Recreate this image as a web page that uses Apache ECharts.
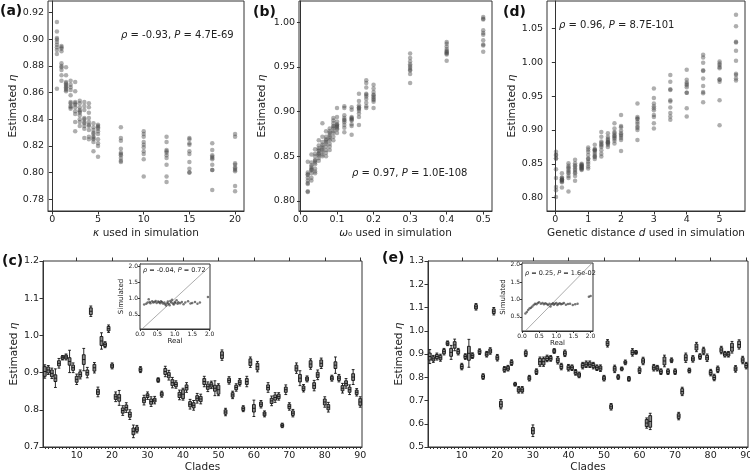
<!DOCTYPE html>
<html><head><meta charset="utf-8">
<script src="https://cdn.jsdelivr.net/npm/echarts@6/dist/echarts.min.js"></script>
<style>html,body{margin:0;padding:0;background:#fff}#c{width:750px;height:470px}</style>
</head><body><div id="c"></div>
<script>
// ---------- Panel (a): kappa ----------
const kappaVals = [0.5,1,1.5,2,2.5,3,3.5,4,4.5,5,7.5,10,12.5,15,17.5,20];
const etaA = [
 [0.913,0.906,0.901,0.900,0.898,0.896,0.894,0.892,0.889,0.863],
 [0.895,0.894,0.893,0.891,0.882,0.880,0.877,0.873,0.869,0.879],
 [0.879,0.873,0.868,0.866,0.864,0.863,0.862,0.861,0.865,0.867],
 [0.869,0.866,0.864,0.862,0.853,0.852,0.850,0.849,0.848,0.858],
 [0.868,0.861,0.853,0.851,0.849,0.846,0.844,0.838,0.831,0.852],
 [0.854,0.852,0.849,0.847,0.845,0.843,0.840,0.838,0.835,0.846],
 [0.853,0.850,0.847,0.841,0.840,0.837,0.835,0.833,0.826,0.838],
 [0.852,0.849,0.845,0.841,0.838,0.835,0.832,0.827,0.825,0.836],
 [0.837,0.834,0.832,0.830,0.829,0.827,0.825,0.823,0.816,0.826],
 [0.836,0.835,0.833,0.831,0.829,0.825,0.822,0.820,0.812,0.834],
 [0.834,0.826,0.824,0.818,0.815,0.814,0.813,0.811,0.809,0.808],
 [0.831,0.829,0.827,0.823,0.821,0.819,0.816,0.814,0.810,0.797],
 [0.827,0.823,0.816,0.815,0.813,0.811,0.806,0.797,0.793,0.817],
 [0.826,0.825,0.822,0.821,0.816,0.814,0.808,0.803,0.800,0.800],
 [0.822,0.817,0.813,0.812,0.811,0.806,0.802,0.802,0.787,0.810],
 [0.829,0.827,0.807,0.806,0.803,0.802,0.801,0.790,0.786,0.804]
];
const ticksAx = [0,5,10,15,20];
const ticksAy = [0.78,0.80,0.82,0.84,0.86,0.88,0.90,0.92];

// ---------- Panel (b): omega0 ----------
const omegaVals = [0.02,0.03,0.04,0.05,0.06,0.07,0.08,0.09,0.1,0.12,0.14,0.16,0.18,0.2,0.3,0.4,0.5];
const etaB = [
 [0.844,0.832,0.830,0.829,0.826,0.823,0.820,0.819,0.811,0.810],
 [0.852,0.843,0.840,0.838,0.836,0.834,0.831,0.826,0.823,0.835],
 [0.858,0.853,0.850,0.846,0.843,0.841,0.836,0.833,0.831,0.845],
 [0.868,0.862,0.859,0.856,0.853,0.851,0.848,0.845,0.853,0.857],
 [0.887,0.872,0.866,0.863,0.859,0.857,0.855,0.852,0.850,0.861],
 [0.878,0.872,0.868,0.864,0.861,0.857,0.854,0.850,0.866,0.869],
 [0.881,0.878,0.876,0.872,0.868,0.864,0.861,0.857,0.870,0.874],
 [0.893,0.890,0.887,0.884,0.881,0.878,0.872,0.868,0.883,0.876],
 [0.904,0.894,0.889,0.886,0.884,0.881,0.880,0.876,0.885,0.883],
 [0.906,0.904,0.896,0.893,0.891,0.888,0.885,0.882,0.877,0.890],
 [0.905,0.902,0.894,0.892,0.890,0.886,0.884,0.874,0.893,0.891],
 [0.920,0.912,0.907,0.905,0.903,0.898,0.894,0.885,0.901,0.904],
 [0.935,0.932,0.927,0.920,0.917,0.914,0.910,0.906,0.904,0.919],
 [0.930,0.926,0.922,0.919,0.916,0.914,0.911,0.904,0.918,0.913],
 [0.965,0.960,0.956,0.953,0.951,0.949,0.946,0.942,0.932,0.947],
 [0.978,0.976,0.973,0.970,0.967,0.965,0.966,0.964,0.957,0.968],
 [1.006,1.004,1.003,0.991,0.988,0.986,0.980,0.975,0.967,0.974]
];
const ticksBx = [0,0.1,0.2,0.3,0.4,0.5];
const ticksBy = [0.80,0.85,0.90,0.95,1.00];

// ---------- Panel (d): genetic distance ----------
const distVals = [0.02,0.2,0.4,0.6,0.8,1.0,1.2,1.4,1.6,1.8,2.0,2.5,3,3.5,4,4.5,5,5.5];
const etaD = [
 [0.868,0.863,0.858,0.842,0.829,0.816,0.811,0.801,0.858,0.863],
 [0.836,0.830,0.827,0.825,0.823,0.815,0.827,0.829,0.826,0.824],
 [0.851,0.847,0.843,0.840,0.836,0.832,0.829,0.809,0.838,0.845],
 [0.856,0.851,0.846,0.841,0.836,0.832,0.825,0.838,0.843,0.848],
 [0.850,0.848,0.846,0.843,0.841,0.849,0.847,0.845,0.844,0.842],
 [0.874,0.871,0.863,0.858,0.853,0.850,0.846,0.843,0.857,0.868],
 [0.878,0.871,0.869,0.863,0.861,0.857,0.870,0.860,0.872,0.866],
 [0.897,0.890,0.883,0.879,0.875,0.870,0.865,0.861,0.881,0.877],
 [0.895,0.890,0.885,0.883,0.880,0.875,0.882,0.878,0.887,0.881],
 [0.910,0.902,0.897,0.892,0.887,0.884,0.880,0.891,0.889,0.895],
 [0.922,0.906,0.899,0.895,0.891,0.888,0.885,0.869,0.893,0.904],
 [0.939,0.919,0.916,0.912,0.909,0.905,0.900,0.885,0.917,0.903],
 [0.961,0.947,0.939,0.935,0.932,0.922,0.919,0.910,0.902,0.929],
 [0.981,0.971,0.960,0.944,0.933,0.925,0.915,0.959,0.942,0.920],
 [0.989,0.974,0.970,0.966,0.955,0.932,0.920,0.968,0.955,0.963],
 [1.011,1.007,0.999,0.988,0.976,0.965,0.956,0.954,0.941,0.987],
 [1.001,0.996,0.991,0.974,0.971,0.944,0.907,0.975,0.998,0.993],
 [1.070,1.053,1.030,1.017,1.002,0.981,0.976,0.973,0.983,1.029]
];
const ticksDx = [0,1,2,3,4,5];
const ticksDy = [0.80,0.85,0.90,0.95,1.00,1.05];

// ---------- Panel (c): clades, medians and half box / whisker (x0.001) ----------
const clades = Array.from({length:90},(_,i)=>String(i+1));
const cMed = [
 0.903,0.907,0.898,0.885,0.925,0.940,0.942,0.930,0.913,0.882,
 0.895,0.935,0.900,1.065,0.913,0.848,0.985,0.975,1.018,0.918,
 0.835,0.832,0.798,0.806,0.787,0.742,0.748,0.908,0.826,0.838,
 0.822,0.826,0.880,0.842,0.903,0.893,0.873,0.868,0.840,0.842,
 0.860,0.815,0.812,0.831,0.829,0.876,0.862,0.867,0.858,0.854,
 0.947,0.794,0.879,0.840,0.860,0.874,0.803,0.876,0.928,0.804,
 0.916,0.815,0.789,0.860,0.824,0.833,0.836,0.758,0.854,0.809,
 0.791,0.912,0.885,0.858,0.883,0.923,0.865,0.894,0.925,0.821,
 0.807,0.885,0.920,0.885,0.858,0.871,0.854,0.888,0.847,0.821];
const cBox = [
 13,8,9,9,7,4,5,10,7,8, 7,13,7,9,9,7,12,5,6,5,
 7,9,7,7,7,9,6,5,7,5, 7,5,4,5,8,7,8,6,7,12,
 7,7,7,7,7,8,7,6,8,12, 9,6,6,6,6,6,5,8,9,10,
 9,6,5,7,7,7,6,4,7,6, 6,8,10,6,5,9,8,7,9,8,
 7,5,9,6,7,7,7,9,6,9];
const cWhisk = [
 18,12,14,25,13,6,8,30,13,14, 12,30,14,14,14,13,22,8,10,8,
 13,20,13,13,13,17,10,8,13,10, 13,10,6,8,14,13,14,10,13,16,
 13,13,13,13,13,14,13,10,20,16, 14,10,10,10,10,10,8,14,14,22,
 14,10,8,13,13,13,10,6,13,10, 10,14,20,10,8,14,14,13,14,14,
 13,8,22,10,13,13,13,20,10,14];

// ---------- Panel (e) ----------
const eMed = [
 0.889,0.879,0.889,0.884,0.910,0.946,0.907,0.939,0.910,0.846,
 0.889,0.903,0.893,1.103,0.910,0.803,0.899,0.913,1.084,0.884,
 0.684,0.834,0.839,0.863,0.770,0.746,0.746,0.903,0.796,0.570,
 0.824,0.867,0.867,0.881,0.881,0.913,0.873,0.846,0.903,0.841,
 0.841,0.821,0.810,0.850,0.856,0.856,0.850,0.841,0.839,0.796,
 0.946,0.673,0.836,0.801,0.836,0.864,0.793,0.907,0.907,0.830,
 0.870,0.603,0.610,0.841,0.839,0.824,0.870,0.824,0.873,0.824,
 0.633,0.739,0.884,0.829,0.879,0.930,0.889,0.913,0.884,0.820,
 0.799,0.834,0.917,0.899,0.899,0.929,0.836,0.941,0.874,0.850];
const eBox = [
 15,9,9,9,9,7,17,14,9,9, 8,30,8,9,8,8,8,9,10,9,
 13,8,8,8,5,9,9,9,8,14, 8,14,14,9,8,7,10,9,9,9,
 8,8,8,9,9,9,9,8,9,8, 10,9,10,6,5,6,7,10,5,9,
 10,15,25,9,8,8,17,8,6,8, 10,12,13,7,9,13,8,10,10,9,
 9,9,10,8,8,17,9,14,10,9];
const eWhisk = [
 30,15,15,15,14,10,30,25,14,14, 12,60,12,14,12,12,12,14,16,14,
 20,12,12,12,8,14,14,14,12,25, 12,20,20,14,12,10,16,14,14,14,
 12,12,12,14,14,14,14,12,14,12, 16,14,16,10,8,10,10,16,8,14,
 16,22,35,14,12,12,25,12,10,12, 16,18,20,10,14,20,12,16,16,14,
 14,14,16,12,12,25,14,20,16,14];

// ---------- Insets: real vs simulated ----------
const realC = [0.12,0.18,0.22,0.25,0.28,0.30,0.35,0.38,0.42,0.45,0.48,0.52,0.55,0.58,0.60,0.63,0.66,0.70,0.72,0.75,0.78,0.80,0.82,0.85,0.87,0.90,0.92,0.95,0.97,1.00,1.02,1.05,1.08,1.10,1.15,1.20,1.25,1.30,1.38,1.45,1.50,1.58,1.65,1.72,1.95];
const simC  = [0.82,0.84,0.88,0.98,0.90,0.86,0.92,0.88,0.90,0.93,0.87,0.91,0.89,0.86,0.92,0.90,0.85,0.88,0.83,0.79,0.86,0.91,0.84,0.80,0.93,0.88,0.97,0.85,0.82,0.90,0.87,0.95,0.84,0.89,0.86,0.90,0.83,0.88,0.92,0.85,0.87,0.90,0.84,0.88,1.05];
const realE = [0.10,0.14,0.18,0.22,0.26,0.30,0.34,0.38,0.42,0.46,0.50,0.55,0.60,0.64,0.68,0.72,0.76,0.80,0.83,0.86,0.90,0.93,0.96,1.00,1.03,1.06,1.10,1.14,1.18,1.22,1.28,1.34,1.40,1.48,1.55,1.62,1.95,2.00];
const simE  = [0.60,0.64,0.70,0.74,0.76,0.80,0.84,0.88,0.86,0.90,0.92,0.88,0.90,0.86,0.89,0.87,0.84,0.88,0.80,0.86,0.89,0.85,0.88,0.90,0.84,0.87,0.89,0.86,0.88,0.90,0.85,0.87,0.88,0.84,0.86,0.88,1.08,1.10];
const ticksIn = [0.0,0.5,1.0,1.5,2.0];
const ticksInY = [0.5,1.0,1.5,2.0];

// ---------- build ----------
const FONT = 'DejaVu Sans';
const TXT = '#222';
const TICKFS = 9.5;
function colPts(xs, ys){ const out=[]; xs.forEach((x,i)=>ys[i].forEach(v=>out.push([x,v]))); return out; }
function boxes(med, box, wh){ return med.map((m,i)=>[m-wh[i]/1000, m-box[i]/1000, m, m+box[i]/1000, m+wh[i]/1000]); }
function grid(l,t,w,h,z){ return {left:l,top:t,width:w,height:h,show:true,borderColor:'#333',borderWidth:1,backgroundColor:'#fff',containLabel:false,outerBoundsMode:'none',z:z||0}; }
function valAxis(gi, min, max, ticks, fmt, extra){
  return Object.assign({type:'value', gridIndex:gi, min, max, scale:true,
    axisLine:{show:true,lineStyle:{color:'#333',width:1}},
    axisTick:{show:true,length:3.5,customValues:ticks,lineStyle:{color:'#333'}},
    axisLabel:{customValues:ticks,formatter:fmt,color:TXT,fontFamily:FONT,fontSize:TICKFS,margin:4},
    splitLine:{show:false}}, extra||{});
}
const NAMEFS = 10.5;
const italic = {i:{fontStyle:'italic',fontFamily:FONT,fontSize:NAMEFS,color:TXT}};
const nameStyle = {color:TXT,fontFamily:FONT,fontSize:NAMEFS,rich:italic};

const grids = [
  grid(48,1,196,210), grid(299,1,193,210), grid(547,1,198,210),
  grid(43,261,319,186), grid(428,261,320,186),
  grid(140,264,70,65,5), grid(522,263,71,68,5)
];

const f2 = v=>v.toFixed(2), f1 = v=>v.toFixed(1), f0 = v=>String(Math.round(v));
const xLab = (ticks,fmt)=>({customValues:ticks,formatter:fmt,color:TXT,fontFamily:FONT,fontSize:TICKFS,margin:4});
const inTick = t=>({show:true,length:2,customValues:t,lineStyle:{color:'#333'}});
const inLab = t=>({customValues:t,formatter:f1,color:TXT,fontFamily:FONT,fontSize:6,margin:2});
const inName = {color:TXT,fontFamily:FONT,fontSize:7};
const catAxis = gi=>({type:'category',gridIndex:gi,data:clades,boundaryGap:true,
    axisLine:{lineStyle:{color:'#333'}},axisTick:{show:true,interval:0,alignWithLabel:true,length:2,lineStyle:{color:'#333'}},
    axisLabel:{interval:(i)=>(i+1)%10===0,color:TXT,fontFamily:FONT,fontSize:TICKFS,margin:4},
    name:'Clades',nameLocation:'middle',nameGap:10,nameTextStyle:nameStyle});
const majAxis = gi=>({type:'category',gridIndex:gi,data:clades,boundaryGap:true,axisLine:{show:false},
    axisTick:{show:true,interval:(i)=>(i+1)%10===0,alignWithLabel:true,length:3.5,lineStyle:{color:'#333'}},axisLabel:{show:false}});
const xAxes = [
  valAxis(0,-0.475,20.975,ticksAx,f0,{axisLabel:xLab(ticksAx,f0),name:'{i|κ} used in simulation',nameLocation:'middle',nameGap:17,nameTextStyle:nameStyle}),
  valAxis(1,-0.004,0.524,ticksBx,f1,{axisLabel:xLab(ticksBx,f1),name:'{i|ω}₀ used in simulation',nameLocation:'middle',nameGap:17,nameTextStyle:nameStyle}),
  valAxis(2,-0.254,5.774,ticksDx,f0,{axisLabel:xLab(ticksDx,f0),name:'Genetic distance {i|d} used in simulation',nameLocation:'middle',nameGap:17,nameTextStyle:nameStyle}),
  catAxis(3), catAxis(4), majAxis(3), majAxis(4),
  valAxis(5,0,2.01,ticksIn,f1,{name:'Real',nameLocation:'middle',nameGap:8,nameTextStyle:inName,axisTick:inTick(ticksIn),axisLabel:inLab(ticksIn)}),
  valAxis(6,0,2.07,ticksIn,f1,{name:'Real',nameLocation:'middle',nameGap:8,nameTextStyle:inName,axisTick:inTick(ticksIn),axisLabel:inLab(ticksIn)})
];
const yAxes = [
  valAxis(0,0.7712,0.9288,ticksAy,f2,{name:'Estimated {i|η}',nameLocation:'middle',nameGap:26,nameTextStyle:nameStyle}),
  valAxis(1,0.7888,1.0238,ticksBy,f2,{name:'Estimated {i|η}',nameLocation:'middle',nameGap:31,nameTextStyle:nameStyle}),
  valAxis(2,0.7804,1.0903,ticksDy,f2,{name:'Estimated {i|η}',nameLocation:'middle',nameGap:29,nameTextStyle:nameStyle}),
  valAxis(3,0.7,1.2,[0.7,0.8,0.9,1.0,1.1,1.2],f1,{name:'Estimated {i|η}',nameLocation:'middle',nameGap:20,nameTextStyle:nameStyle}),
  valAxis(4,0.5,1.3,[0.5,0.6,0.7,0.8,0.9,1.0,1.1,1.2,1.3],f1,{name:'Estimated {i|η}',nameLocation:'middle',nameGap:20,nameTextStyle:nameStyle}),
  valAxis(5,0.059,2.078,ticksInY,f1,{name:'Simulated',nameLocation:'middle',nameGap:12,nameTextStyle:inName,axisTick:inTick(ticksInY),axisLabel:inLab(ticksInY)}),
  valAxis(6,0.095,2.046,ticksInY,f1,{name:'Simulated',nameLocation:'middle',nameGap:10,nameTextStyle:inName,axisTick:inTick(ticksInY),axisLabel:inLab(ticksInY)})
];

const ptStyle = {color:'rgba(70,70,70,0.55)'};
const boxStyle = {color:'#8c8c8c',borderColor:'#111',borderWidth:0.9};
const series = [
  {type:'scatter',xAxisIndex:0,yAxisIndex:0,data:colPts(kappaVals,etaA),symbolSize:4.5,itemStyle:ptStyle},
  {type:'scatter',xAxisIndex:1,yAxisIndex:1,data:colPts(omegaVals,etaB),symbolSize:4.5,itemStyle:ptStyle},
  {type:'scatter',xAxisIndex:2,yAxisIndex:2,data:colPts(distVals,etaD),symbolSize:4.5,itemStyle:ptStyle},
  {type:'boxplot',xAxisIndex:3,yAxisIndex:3,data:boxes(cMed,cBox,cWhisk),boxWidth:[2.8,2.8],itemStyle:boxStyle},
  {type:'boxplot',xAxisIndex:4,yAxisIndex:4,data:boxes(eMed,eBox,eWhisk),boxWidth:[2.8,2.8],itemStyle:boxStyle},
  {type:'line',xAxisIndex:7,yAxisIndex:5,data:[[0,0],[2.2,2.2]],showSymbol:false,clip:true,lineStyle:{color:'#888',width:0.7},z:6},
  {type:'line',xAxisIndex:8,yAxisIndex:6,data:[[0,0],[2.2,2.2]],showSymbol:false,clip:true,lineStyle:{color:'#888',width:0.7},z:6},
  {type:'scatter',xAxisIndex:7,yAxisIndex:5,data:realC.map((x,i)=>[x,simC[i]]),symbolSize:2.5,itemStyle:{color:'rgba(40,40,40,0.8)'},z:7},
  {type:'scatter',xAxisIndex:8,yAxisIndex:6,data:realE.map((x,i)=>[x,simE[i]]),symbolSize:2.5,itemStyle:{color:'rgba(40,40,40,0.8)'},z:7}
];

function label(t,x,y){ return {type:'text',x,y,z:100,style:{text:t,fontFamily:FONT,fontWeight:'bold',fontSize:14,fill:'#111',textVerticalAlign:'middle'}}; }
function ann(t,x,y,fs){ return {type:'text',x,y,z:100,style:{text:t,fontFamily:FONT,fontSize:fs,fill:TXT,textVerticalAlign:'middle',
  rich:{i:{fontStyle:'italic',fontFamily:FONT,fontSize:fs,fill:TXT}}}}; }
const graphic = [
  label('(a)',0,11), label('(b)',253,12), label('(d)',503,12), label('(c)',2,261), label('(e)',382,258),
  ann('{i|ρ} = -0.93, {i|P} = 4.7E-69',121,35,10),
  ann('{i|ρ} = 0.97, {i|P} = 1.0E-108',352,173,10),
  ann('{i|ρ} = 0.96, {i|P} = 8.7E-101',559,25,10),
  ann('{i|ρ} = -0.04, {i|P} = 0.72',143,270,6.5),
  ann('{i|ρ} = 0.25, {i|P} = 1.6e-02',525,273,6.5)
];

const chart = echarts.init(document.getElementById('c'));
chart.setOption({animation:false,backgroundColor:'#fff',grid:grids,xAxis:xAxes,yAxis:yAxes,series,graphic});
</script></body></html>
